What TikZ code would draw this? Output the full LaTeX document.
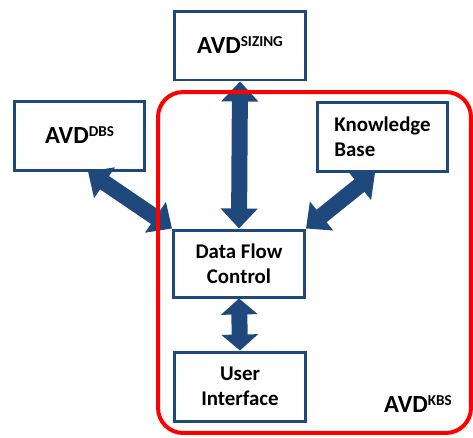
\documentclass[tikz,border=0pt]{standalone}
\usepackage{fontspec}
\setmainfont{Carlito}
\usetikzlibrary{arrows.meta}

\definecolor{avdBlue}{RGB}{31,73,125}
\definecolor{kbsRed}{RGB}{255,0,0}

\newcommand{\avdsup}[1]{AVD\raisebox{4pt}{\fontsize{8.6}{8.6}\selectfont #1}}

\begin{document}
\begin{tikzpicture}[x=0.02cm, y=-0.02cm,
        box/.style={rectangle, draw=avdBlue, line width=0.06cm, fill=white, minimum width=2.62cm, minimum height=1.38cm, font=\fontsize{11.9}{14.2}\selectfont\bfseries, align=center, text=black, inner sep=0pt},
        avdtext/.style={font=\fontsize{14}{15}\selectfont\bfseries, text=black},
        kbsframe/.style={rectangle, draw=kbsRed, line width=0.08cm, rounded corners=0.5cm, minimum width=6.26cm, minimum height=6.82cm},
        dblarrow/.style={draw=avdBlue, line width=0.32cm, {Triangle[width=0.72cm,length=#1]}-{Triangle[width=0.72cm,length=#1]}},
        dblarrow/.default=0.4cm
    ]
        \useasboundingbox (0,0) rectangle (473,437);
        \node[box, font=\fontsize{14}{15}\selectfont\bfseries] (sizing) at (240,45.5) {\avdsup{SIZING}};
        \node[box, font=\fontsize{14}{15}\selectfont\bfseries] (dbs) at (79.5,135.5) {\avdsup{DBS}};
        \node[box, align=left] (kb) at (382.5,137) {Knowledge\\Base};
        \node[box, minimum height=1.34cm] (dfc) at (239,263.5) {Data Flow\\Control};
        \node[box] (ui) at (240,386.5) {User\\Interface};
        \draw[dblarrow] (dfc.north) -- (sizing.south);
        \draw[dblarrow] (dfc.north west) -- ([xshift=0.17cm]dbs.south);
        \draw[dblarrow] (dfc.north east) -- ([xshift=-0.15cm]kb.south);
        \draw[dblarrow=0.32cm] (dfc.south) -- (ui.north);
        \node[kbsframe] (kbs) at (314.5,262.5) {};
        \node[avdtext] at ([xshift=-1.1cm,yshift=0.62cm]kbs.south east) {\avdsup{KBS}};
    \end{tikzpicture}
\end{document}
